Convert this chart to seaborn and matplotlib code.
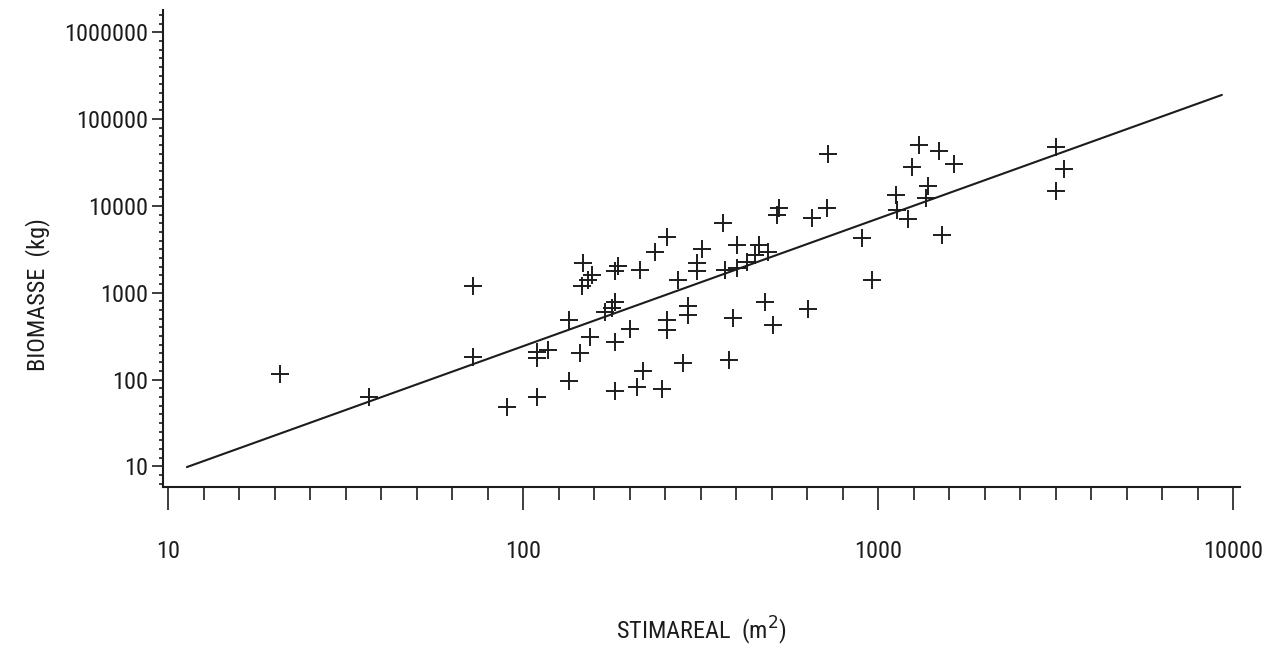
import numpy as np
import pandas as pd
import seaborn as sns
import matplotlib.pyplot as plt
from matplotlib import font_manager
from matplotlib.ticker import FixedLocator, NullFormatter

# Scatter data: area (m2) vs biomass (kg)
stimareal = [20.7, 36.7, 72.4, 72.4, 90.3, 109.3, 109.5, 109.5, 117.2, 134.8,
             134.8, 144.7, 147.9, 156.2, 152.7, 146.3, 154.5, 181.6, 181.6, 181.6,
             177.8, 170.2, 185.6, 181.6, 212.9, 200.2, 209.0, 218.2, 235.4, 245.9,
             254.0, 254.0, 254.0, 273.8, 282.3, 292.2, 292.2, 308.5, 308.5, 319.3,
             364.8, 370.7, 381.0, 390.5, 400.0, 400.0, 426.7, 450.3, 463.0, 489.8,
             480.6, 507.0, 518.4, 526.0, 636.4, 651.7, 717.0, 724.4, 899.5, 960.0,
             1124, 1129, 1217, 1249, 1307, 1365, 1386, 1486, 1514, 1641,
             3172, 3342, 3172]
biomasse = [115, 62.4, 1205, 180, 47.9, 63.4, 207, 177, 216, 484,
            97.3, 200, 2182, 1600, 1400, 1194, 311, 73.7, 272, 788,
            661, 604, 2031, 1802, 1828, 377, 82.6, 125, 2967, 77.8,
            4385, 484, 372, 1383, 153.6, 712, 553, 2182, 1778, 3230,
            6353, 1828, 165.6, 507, 3546, 1910, 2276, 2718, 3546, 2967,
            788, 425, 7855, 9380, 649, 7196, 9380, 39940, 4325, 1383,
            13360, 8975, 7063, 27850, 50330, 12230, 17090, 42900, 4620, 30400,
            48340, 26970, 15040]

# regression line end points
fit_x = [11.3, 9300]
fit_y = [9.8, 190000]

x_ticks = [10, 100, 1000, 10000]
x_labels = ["10", "100", "1000", "10000"]
y_ticks = [10, 100, 1000, 10000, 100000, 1000000]
y_labels = ["10", "100", "1000", "10000", "100000", "1000000"]

df = pd.DataFrame({"stimareal": stimareal, "biomasse": biomasse})
df_fit = pd.DataFrame({"x": fit_x, "y": fit_y})

sns.set_style("ticks")

# the original uses a narrow plotter font; use a condensed face if one exists
installed = {f.name for f in font_manager.fontManager.ttflist}
narrow = [n for n in ["Liberation Sans Narrow", "Roboto Condensed",
                      "DejaVu Sans Condensed", "Open Sans Condensed"]
          if n in installed]
if narrow:
    plt.rcParams['font.family'] = [narrow[0], 'DejaVu Sans']
    fs = 17.5
else:
    plt.rcParams['font.family'] = ['DejaVu Sans']
    fs = 15
ink = "#1c1c1c"

fig = plt.figure(figsize=(12.62, 6.47), dpi=100)
ax = fig.add_axes([0.1292, 0.2473, 0.8534, 0.7372])

sns.lineplot(data=df_fit, x="x", y="y", ax=ax, color=ink, linewidth=1.5)
sns.scatterplot(data=df, x="stimareal", y="biomasse", ax=ax, marker="+",
                s=170, color=ink, linewidth=1.4)

ax.set(xscale="log", yscale="log")
ax.set_xlim(9.68, 10464)
ax.set_ylim(5.775, 1807000)

# plotter style: minor ticks evenly spaced in log space (10 per decade)
ax.xaxis.set_major_locator(FixedLocator(x_ticks))
ax.xaxis.set_minor_locator(FixedLocator(10 ** np.arange(1, 4.001, 0.1)))
ax.yaxis.set_major_locator(FixedLocator(y_ticks))
ax.yaxis.set_minor_locator(FixedLocator(10 ** np.arange(0.8, 6.25, 0.1)))
ax.xaxis.set_minor_formatter(NullFormatter())
ax.yaxis.set_minor_formatter(NullFormatter())
ax.set_xticklabels(x_labels)
ax.set_yticklabels(y_labels)

ax.tick_params(axis="x", which="major", length=16.5, width=1.2, pad=22,
               labelsize=fs, colors=ink)
ax.tick_params(axis="x", which="minor", length=9.5, width=1.2, colors=ink)
ax.tick_params(axis="y", which="major", length=8, width=1.2, pad=3,
               labelsize=fs, colors=ink)
ax.tick_params(axis="y", which="minor", length=3, width=1.2, colors=ink)

sns.despine(ax=ax)
for s in ["left", "bottom"]:
    ax.spines[s].set_linewidth(1.5)
    ax.spines[s].set_color(ink)

ax.set_xlabel("STIMAREAL  (m$^2$)", fontsize=fs, color=ink)
ax.set_ylabel("BIOMASSE  (kg)", fontsize=fs, color=ink)
ax.xaxis.set_label_coords(0.5, -0.268)
ax.yaxis.set_label_coords(-0.105, 0.4025)

fig.savefig("out.png", dpi=100)
